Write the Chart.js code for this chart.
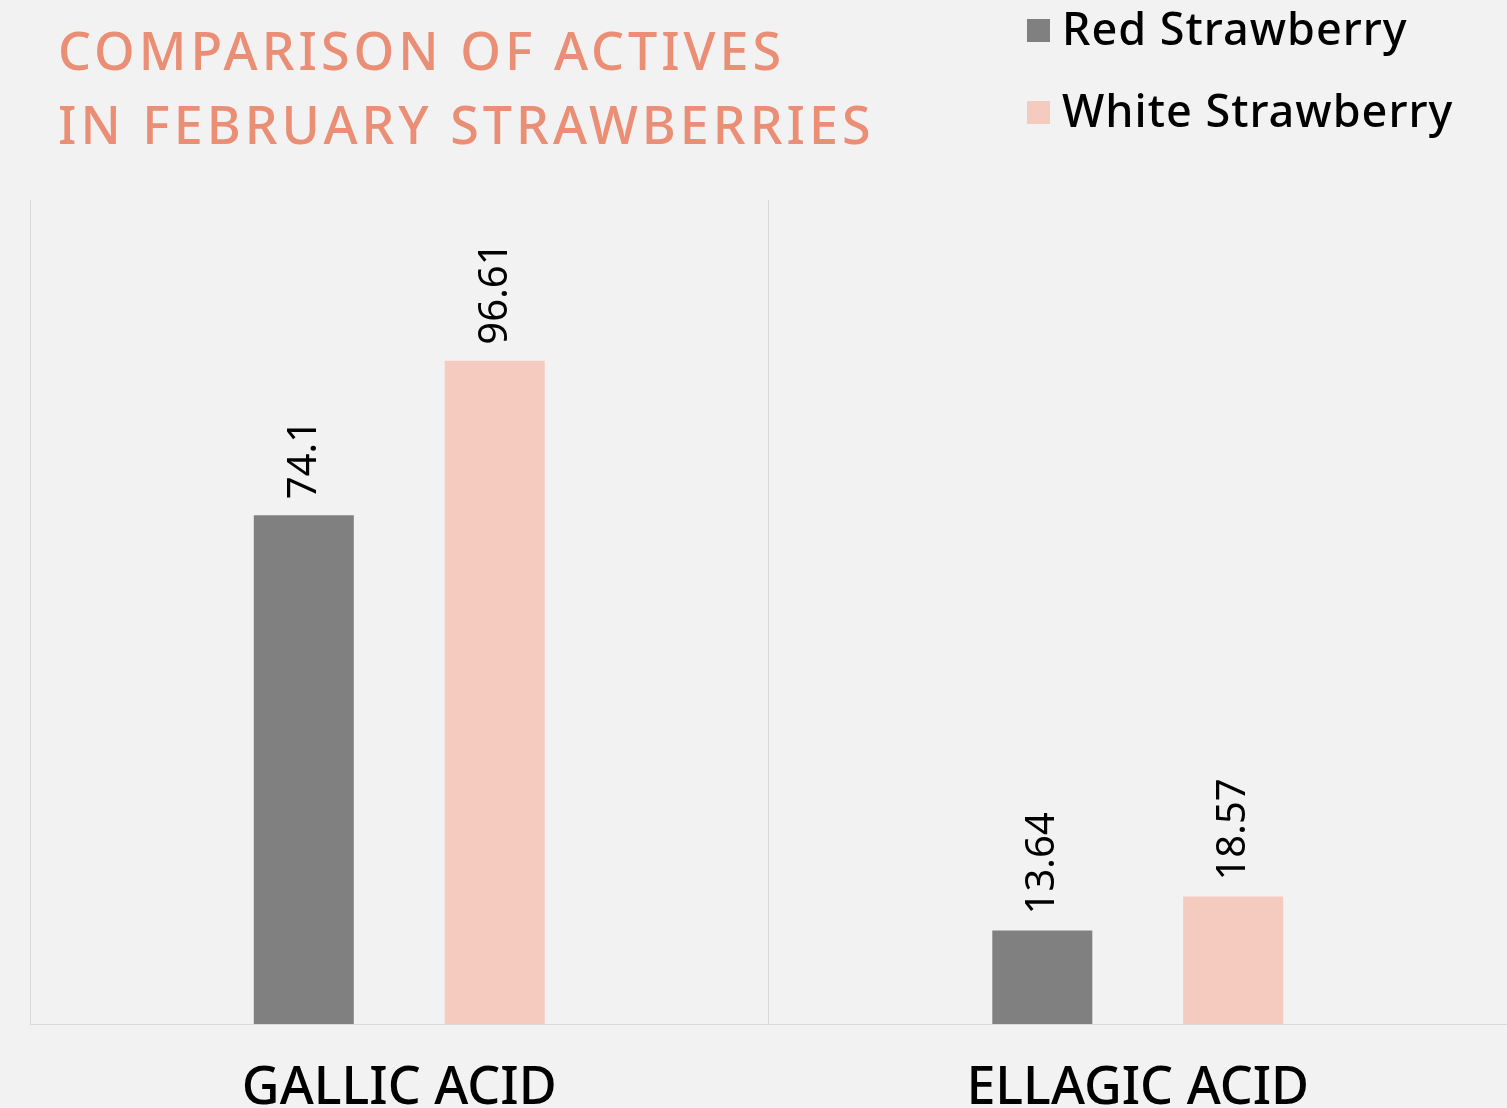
<!DOCTYPE html>
<html>
<head>
<meta charset="utf-8">
<script src="https://cdn.jsdelivr.net/npm/chart.js@4.4.0/dist/chart.umd.min.js"></script>
<style>
  html, body { margin: 0; padding: 0; background: #f2f2f2; }
  #wrap { width: 1507px; height: 1108px; position: relative; }
</style>
</head>
<body>
<div id="wrap"><canvas id="barChart"></canvas></div>
<script>
// no animations, we want a still picture
Chart.defaults.animation = false;

// ================= Data =================
const categories = ["GALLIC ACID", "ELLAGIC ACID"];
const seriesNames = ["Red Strawberry", "White Strawberry"];
const redValues = [74.1, 13.64];
const whiteValues = [96.61, 18.57];
const titleLines = ["COMPARISON OF ACTIVES", "IN FEBRUARY STRAWBERRIES"];

const FONT = "'Noto Sans', sans-serif";

// ================= Value labels (rotated, above bars) =================
const valueLabels = {
  id: "valueLabels",
  afterDatasetsDraw(chart) {
    const ctx = chart.ctx;
    ctx.save();
    ctx.fillStyle = "#000";
    ctx.font = "40px " + FONT;
    ctx.textAlign = "left";
    ctx.textBaseline = "alphabetic";
    chart.data.datasets.forEach((ds, i) => {
      chart.getDatasetMeta(i).data.forEach((bar, j) => {
        ctx.save();
        ctx.translate(bar.x + 12, bar.y - 16);
        ctx.rotate(-Math.PI / 2);
        ctx.fillText(String(ds.data[j]), 0, 0);
        ctx.restore();
      });
    });
    ctx.restore();
  }
};

// ================= Title + legend =================
const header = {
  id: "header",
  afterDraw(chart) {
    const ctx = chart.ctx;
    ctx.save();
    // title
    ctx.fillStyle = "#ea8f76";
    ctx.font = "500 52px " + FONT;
    ctx.letterSpacing = "4px";
    ctx.textAlign = "left";
    ctx.textBaseline = "alphabetic";
    ctx.fillText(titleLines[0], 58, 70);
    ctx.fillText(titleLines[1], 58, 144);
    // legend
    ctx.letterSpacing = "1px";
    ctx.font = "500 45px " + FONT;
    chart.data.datasets.forEach((ds, i) => {
      const top = 19 + i * 82;
      ctx.fillStyle = ds.backgroundColor;
      ctx.fillRect(1027, top, 23, 23);
      ctx.fillStyle = "#000";
      ctx.fillText(ds.label, 1062, top + 26);
    });
    ctx.restore();
  }
};

// ================= Bar Chart =================
const barCtx = document.getElementById("barChart");

new Chart(barCtx, {
  type: "bar",
  data: {
    labels: categories,
    datasets: [{
      label: seriesNames[0],
      data: redValues,
      backgroundColor: "#808080"
    }, {
      label: seriesNames[1],
      data: whiteValues,
      backgroundColor: "#f6cbbf"
    }]
  },
  options: {
    responsive: true,
    maintainAspectRatio: false,
    categoryPercentage: 0.517,
    barPercentage: 0.524,
    layout: { padding: { top: 200, left: 30, right: 0, bottom: -46 } },
    plugins: {
      legend: { display: false },
      title: { display: false },
      tooltip: { enabled: false }
    },
    scales: {
      y: {
        display: false,
        min: 0,
        max: 120
      },
      x: {
        grid: { color: "#d9d9d9", lineWidth: 1, drawTicks: false, offset: true },
        border: { color: "#d9d9d9" },
        ticks: {
          color: "#000",
          padding: 40,
          font: { family: FONT, size: 52, weight: 500, lineHeight: 0.96 }
        }
      }
    }
  },
  plugins: [valueLabels, header]
});
</script>
</body>
</html>
